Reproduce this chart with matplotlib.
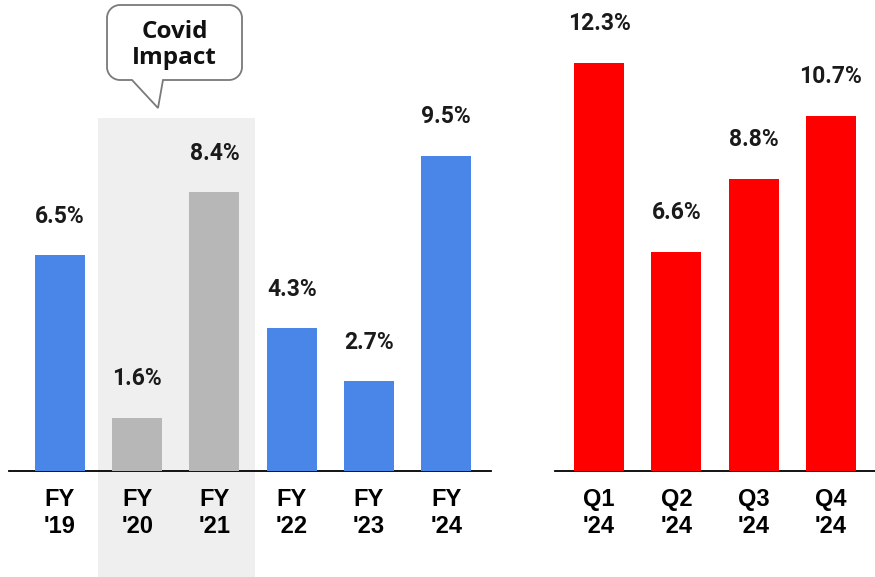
import matplotlib
matplotlib.use("Agg")
import matplotlib.pyplot as plt
from matplotlib.path import Path
from matplotlib.patches import PathPatch, Rectangle
from matplotlib.transforms import blended_transform_factory

# Annual growth
fy_labels = ["FY\n'19", "FY\n'20", "FY\n'21", "FY\n'22", "FY\n'23", "FY\n'24"]
fy_values = [6.5, 1.6, 8.4, 4.3, 2.7, 9.5]
covid_years = [1, 2]  # indices of FY'20 and FY'21

# Quarterly growth
q_labels = ["Q1\n'24", "Q2\n'24", "Q3\n'24", "Q4\n'24"]
q_values = [12.3, 6.6, 8.8, 10.7]

W, H = 875, 577
fig = plt.figure(figsize=(W / 100, H / 100), dpi=100)

BLUE = "#4a86e8"
GREY = "#b7b7b7"
RED = "#ff0000"
SHADE = "#efefef"

tick_font = dict(family=["Liberation Sans", "DejaVu Sans"], weight="bold", size=17)
val_font = dict(family=["Roboto", "DejaVu Sans"], weight="bold", size=16.5)

base_px = 471
ytop = base_px / 33.2


def px_axes(x0, x1):
    return fig.add_axes([x0 / W, (H - base_px) / H, (x1 - x0) / W, base_px / H])


def style(ax, labels):
    for s in ["left", "right", "top"]:
        ax.spines[s].set_visible(False)
    ax.spines["bottom"].set_linewidth(1.3)
    ax.spines["bottom"].set_color("#000000")
    ax.set_yticks([])
    ax.set_ylim(0, ytop)
    ax.set_xticks(range(len(labels)))
    ax.set_xticklabels(labels, linespacing=1.25, **tick_font)
    ax.tick_params(axis="x", length=0, pad=12)
    ax.patch.set_alpha(0)


def label_bars(ax, xs, vals):
    for x, v in zip(xs, vals):
        ax.annotate(f"{v}%", (x, v), xytext=(0, 28), textcoords="offset points",
                    ha="center", va="center", color="#1a1a1a", **val_font)


# Left panel
axL = px_axes(9, 491)
xs = list(range(len(fy_values)))
colors = [GREY if i in covid_years else BLUE for i in xs]
axL.bar(xs, fy_values, width=0.648, color=colors, zorder=3)
axL.set_xlim(-0.66, 5.58)
style(axL, fy_labels)
label_bars(axL, xs, fy_values)

# Shaded covid period, extending below the axis
tr = blended_transform_factory(axL.transData, fig.transFigure)
x_lo = min(covid_years) - 0.51
x_hi = max(covid_years) + 0.53
shade = Rectangle((x_lo, 0), x_hi - x_lo, (H - 118) / H, transform=tr,
                  facecolor=SHADE, edgecolor="none", zorder=0, clip_on=False)
axL.add_patch(shade)

# Right panel
axR = px_axes(555, 875)
xq = list(range(len(q_values)))
axR.bar(xq, q_values, width=0.648, color=RED, zorder=3)
axR.set_xlim(-0.57, 3.57)
style(axR, q_labels)
label_bars(axR, xq, q_values)

# Callout bubble
ov = fig.add_axes([0, 0, 1, 1], zorder=5)
ov.set_xlim(0, W)
ov.set_ylim(H, 0)
ov.axis("off")
ov.patch.set_alpha(0)

x0, x1, y0, y1, r = 107, 242, 5, 80, 13
t0, tip, t1 = (132, y1), (158, 108), (163, y1)
k = 0.55 * r
verts = [
    (x0 + r, y0), (x1 - r, y0),
    (x1 - r + k, y0), (x1, y0 + r - k), (x1, y0 + r),
    (x1, y1 - r),
    (x1, y1 - r + k), (x1 - r + k, y1), (x1 - r, y1),
    t1, tip, t0,
    (x0 + r, y1),
    (x0 + r - k, y1), (x0, y1 - r + k), (x0, y1 - r),
    (x0, y0 + r),
    (x0, y0 + r - k), (x0 + r - k, y0), (x0 + r, y0),
    (x0 + r, y0),
]
codes = [Path.MOVETO, Path.LINETO,
         Path.CURVE4, Path.CURVE4, Path.CURVE4,
         Path.LINETO,
         Path.CURVE4, Path.CURVE4, Path.CURVE4,
         Path.LINETO, Path.LINETO, Path.LINETO,
         Path.LINETO,
         Path.CURVE4, Path.CURVE4, Path.CURVE4,
         Path.LINETO,
         Path.CURVE4, Path.CURVE4, Path.CURVE4,
         Path.CLOSEPOLY]
ov.add_patch(PathPatch(Path(verts, codes), facecolor="white", edgecolor="#7a7a7a",
                       linewidth=1.3))
ov.text((x0 + x1) / 2, 45, "Covid\nImpact", ha="center", va="center",
        family=["Open Sans", "DejaVu Sans"], weight="bold", size=17.5,
        linespacing=1.15, color="#111111")

fig.savefig("out.png", dpi=100)
